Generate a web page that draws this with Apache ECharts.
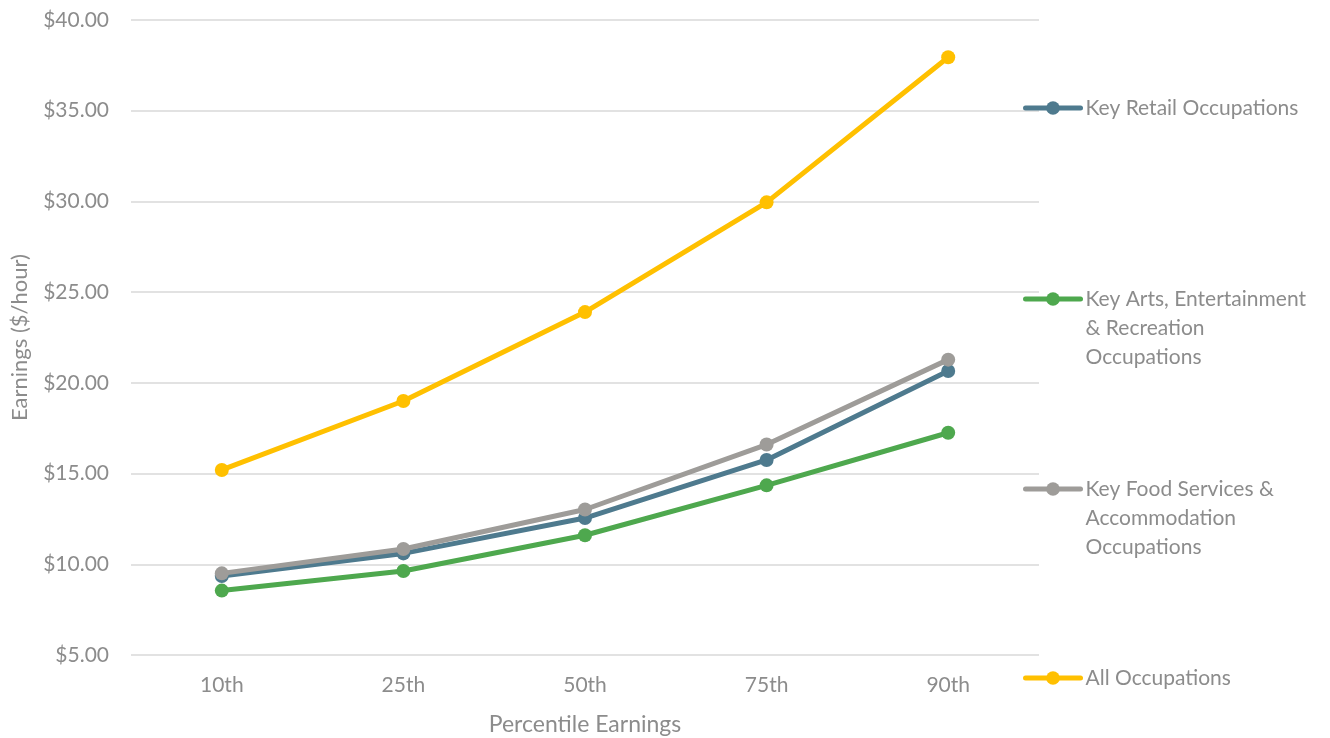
<!DOCTYPE html>
<html><head><meta charset="utf-8">
<script src="https://cdn.jsdelivr.net/npm/echarts@6/dist/echarts.min.js"></script>
<style>html,body{margin:0;padding:0;background:#fff}#c{width:1330px;height:738px}</style>
</head><body><div id="c"></div>
<script>
const categories = ['10th', '25th', '50th', '75th', '90th'];
const retail = [9.35, 10.6, 12.55, 15.75, 20.65];
const arts = [8.55, 9.63, 11.6, 14.35, 17.25];
const food = [9.5, 10.84, 13.02, 16.6, 21.28];
const allOcc = [15.2, 19.0, 23.9, 29.95, 37.95];
const yTicks = { min: 5, max: 40, interval: 5 };
const seriesNames = ['Key Retail Occupations', 'Key Arts, Entertainment & Recreation Occupations', 'Key Food Services & Accommodation Occupations', 'All Occupations'];
const legendLabels = ['Key Retail Occupations', 'Key Arts, Entertainment\n& Recreation\nOccupations', 'Key Food Services &\nAccommodation\nOccupations', 'All Occupations'];
const colors = ['#4e7a8e', '#4ea84e', '#9e9c99', '#ffc000'];
const dataSets = [retail, arts, food, allOcc];

const font = 'Lato, "Open Sans", sans-serif';
const txt = '#8c8c8c';
const legendTops = [108, 299, 489, 678];
const lh = 29;

const chart = echarts.init(document.getElementById('c'));
chart.setOption({
  animation: false,
  textStyle: { fontFamily: font },
  grid: { left: 131, right: 291, top: 20, bottom: 83, containLabel: false, outerBoundsMode: 'none' },
  xAxis: {
    type: 'category', data: categories, boundaryGap: true,
    name: 'Percentile Earnings', nameLocation: 'middle', nameGap: 58,
    nameTextStyle: { color: txt, fontSize: 23, fontFamily: font },
    axisLine: { show: false }, axisTick: { show: false },
    axisLabel: { color: txt, fontSize: 21, margin: 20, fontFamily: font }
  },
  yAxis: {
    type: 'value', min: yTicks.min, max: yTicks.max, interval: yTicks.interval,
    name: 'Earnings ($/hour)', nameLocation: 'middle', nameGap: 100, nameRotate: 90,
    nameTextStyle: { color: txt, fontSize: 22, fontFamily: font },
    axisLine: { show: false }, axisTick: { show: false },
    axisLabel: { color: txt, fontSize: 21, margin: 22, fontFamily: font, formatter: v => '$' + v.toFixed(2) },
    splitLine: { lineStyle: { color: '#d9d9d9', width: 1.5 } }
  },
  legend: seriesNames.map((n, i) => {
    const lines = legendLabels[i].split('\n').length;
    const label = '\n'.repeat(lines - 1) + legendLabels[i];
    const total = 2 * lines - 1;
    return {
      data: [n], orient: 'vertical', left: 1023, top: legendTops[i] - total * lh / 2, padding: 0,
      itemWidth: 55, itemHeight: 17, itemGap: 0,
      formatter: () => label,
      lineStyle: { width: 5, cap: 'round' },
      textStyle: { color: txt, fontSize: 21, fontFamily: font, lineHeight: lh },
      selectedMode: false
    };
  }),
  series: seriesNames.map((n, i) => ({
    name: n, type: 'line', data: dataSets[i],
    symbol: 'circle', symbolSize: 14,
    lineStyle: { color: colors[i], width: 5 },
    itemStyle: { color: colors[i] },
    z: 2 + i
  }))
});
</script></body></html>
